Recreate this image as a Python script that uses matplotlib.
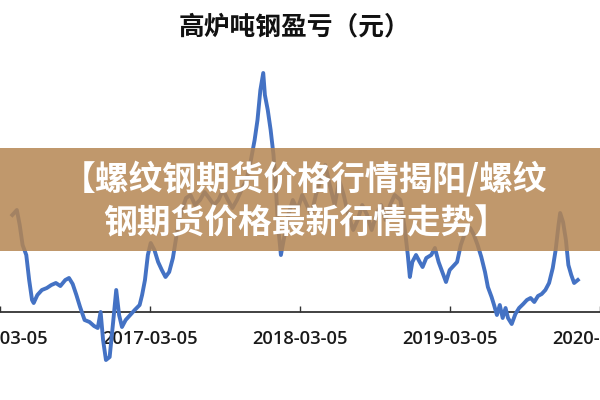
import matplotlib
matplotlib.use("Agg")
import matplotlib.pyplot as plt
import matplotlib.dates as mdates
from matplotlib.patches import Rectangle
from matplotlib.font_manager import FontProperties
import pandas as pd

plt.rcParams['font.family'] = ['Noto Sans CJK SC', 'DejaVu Sans']

title = "高炉吨钢盈亏（元）"
banner_line1 = "【螺纹钢期货价格行情揭阳/螺纹"
banner_line2 = "钢期货价格最新行情走势】"

dates = [
    "2016-04-04", "2016-04-15", "2016-04-22", "2016-04-29", "2016-05-08", "2016-05-15",
    "2016-05-22", "2016-05-26", "2016-06-04", "2016-06-15", "2016-06-27", "2016-07-08",
    "2016-07-19", "2016-07-30", "2016-08-11", "2016-08-20", "2016-08-29", "2016-09-07",
    "2016-09-16", "2016-09-27", "2016-10-09", "2016-10-20", "2016-10-29", "2016-11-05",
    "2016-11-11", "2016-11-18", "2016-11-27", "2016-12-06", "2016-12-13", "2016-12-20",
    "2016-12-27", "2017-01-05", "2017-01-16", "2017-01-27", "2017-02-08", "2017-02-14",
    "2017-02-21", "2017-02-28", "2017-03-07", "2017-03-16", "2017-03-25", "2017-04-03",
    "2017-04-12", "2017-04-21", "2017-04-30", "2017-05-09", "2017-05-20", "2017-06-01",
    "2017-06-12", "2017-06-23", "2017-07-05", "2017-07-16", "2017-07-27", "2017-08-08",
    "2017-08-19", "2017-08-30", "2017-09-11", "2017-09-22", "2017-10-03", "2017-10-14",
    "2017-10-26", "2017-11-06", "2017-11-15", "2017-11-22", "2017-11-29", "2017-12-06",
    "2017-12-10", "2017-12-17", "2017-12-24", "2017-12-31", "2018-01-06", "2018-01-11",
    "2018-01-18", "2018-01-27", "2018-02-05", "2018-02-16", "2018-02-27", "2018-03-11",
    "2018-03-22", "2018-04-02", "2018-04-13", "2018-04-25", "2018-05-06", "2018-05-17",
    "2018-05-29", "2018-06-09", "2018-06-20", "2018-07-01", "2018-07-13", "2018-07-24",
    "2018-08-04", "2018-08-16", "2018-08-27", "2018-09-07", "2018-09-19", "2018-09-30",
    "2018-10-11", "2018-10-22", "2018-11-05", "2018-11-16", "2018-11-23", "2018-11-28",
    "2018-12-04", "2018-12-13", "2018-12-22", "2018-12-29", "2019-01-07", "2019-01-19",
    "2019-01-28", "2019-02-06", "2019-02-15", "2019-02-24", "2019-03-05", "2019-03-14",
    "2019-03-23", "2019-04-01", "2019-04-12", "2019-04-24", "2019-05-03", "2019-05-12",
    "2019-05-21", "2019-05-30", "2019-06-06", "2019-06-15", "2019-06-21", "2019-06-28",
    "2019-07-05", "2019-07-12", "2019-07-19", "2019-07-25", "2019-08-03", "2019-08-12",
    "2019-08-21", "2019-08-31", "2019-09-09", "2019-09-18", "2019-09-27", "2019-10-06",
    "2019-10-15", "2019-10-24", "2019-11-02", "2019-11-11", "2019-11-18", "2019-11-25",
    "2019-11-29", "2019-12-06", "2019-12-13", "2019-12-19", "2019-12-26", "2020-01-02",
    "2020-01-11",
]

profit = [
    582, 612, 522, 402, 342, 192, 72, 54, 102, 132, 144, 162,
    174, 156, 192, 204, 168, 102, 30, -48, -60, -84, -96, 0,
    -168, -288, -270, -48, 132, -18, -90, -48, -18, 12, 42, 102,
    192, 342, 414, 372, 300, 252, 210, 240, 324, 462, 600, 684,
    702, 642, 672, 720, 684, 642, 672, 732, 672, 624, 672, 732,
    792, 912, 1032, 1152, 1332, 1434, 1302, 1212, 1092, 942, 732, 522,
    342, 462, 582, 672, 612, 702, 642, 582, 702, 792, 882, 762,
    642, 792, 702, 582, 492, 552, 642, 582, 492, 582, 642, 552,
    642, 702, 672, 492, 342, 210, 300, 342, 300, 270, 324, 342,
    384, 300, 240, 180, 252, 276, 300, 402, 480, 504, 462, 402,
    330, 240, 150, 90, 42, -18, 42, -36, 24, -36, -72, -12,
    24, 48, 72, 84, 60, 96, 108, 132, 174, 264, 372, 522,
    594, 540, 432, 282, 222, 174, 192,
]

tick_dates = ["2016-03-05", "2017-03-05", "2018-03-05", "2019-03-05", "2020-03-05"]

x = pd.to_datetime(dates)
fig = plt.figure(figsize=(6, 4), dpi=100)
ax = fig.add_axes([0, 0, 1, 1])
ax.set_facecolor('white')

# axis styling first (spine.set_position resets ticks)
for s in ['left', 'right', 'top']:
    ax.spines[s].set_visible(False)
ax.spines['bottom'].set_position(('data', 0))
ax.spines['bottom'].set_color('#333333')
ax.spines['bottom'].set_linewidth(1.3)

ax.plot(x, profit, color='#4472C4', linewidth=2.8, solid_joinstyle='round', zorder=3)

# view window (reference is cropped)
ref = mdates.date2num(pd.Timestamp("2017-03-05"))
days_per_px = 730 / 324
ax.set_xlim(ref - 143 * days_per_px, ref + 457 * days_per_px)
ax.set_ylim(-88 * 6, 312 * 6)

ax.set_yticks([])
ax.tick_params(axis='x', direction='in', length=4, width=1, color='#333333', pad=13)
ax.set_xticks(pd.to_datetime(tick_dates))
tick_fp = FontProperties(family=['Open Sans', 'DejaVu Sans'], weight='semibold', size=13.2)
ax.set_xticklabels(tick_dates, fontproperties=tick_fp, color='#1a1a1a')

fig.text(0.49, 0.9325, title, ha='center', va='center', fontsize=18.5,
         fontweight='bold', color='#111111')

banner = Rectangle((0, 149 / 400), 1, 103 / 400, transform=fig.transFigure,
                   facecolor=(181 / 255, 134 / 255, 82 / 255), alpha=0.85,
                   edgecolor='none', zorder=10)
fig.patches.append(banner)
fig.text(62 / 600, 0.5525, banner_line1, ha='left', va='center', fontsize=24.3,
         fontweight='bold', color='white', zorder=11)
fig.text(103 / 600, 0.4425, banner_line2, ha='left', va='center', fontsize=24.3,
         fontweight='bold', color='white', zorder=11)

fig.savefig('out.png', dpi=100, facecolor='white')
